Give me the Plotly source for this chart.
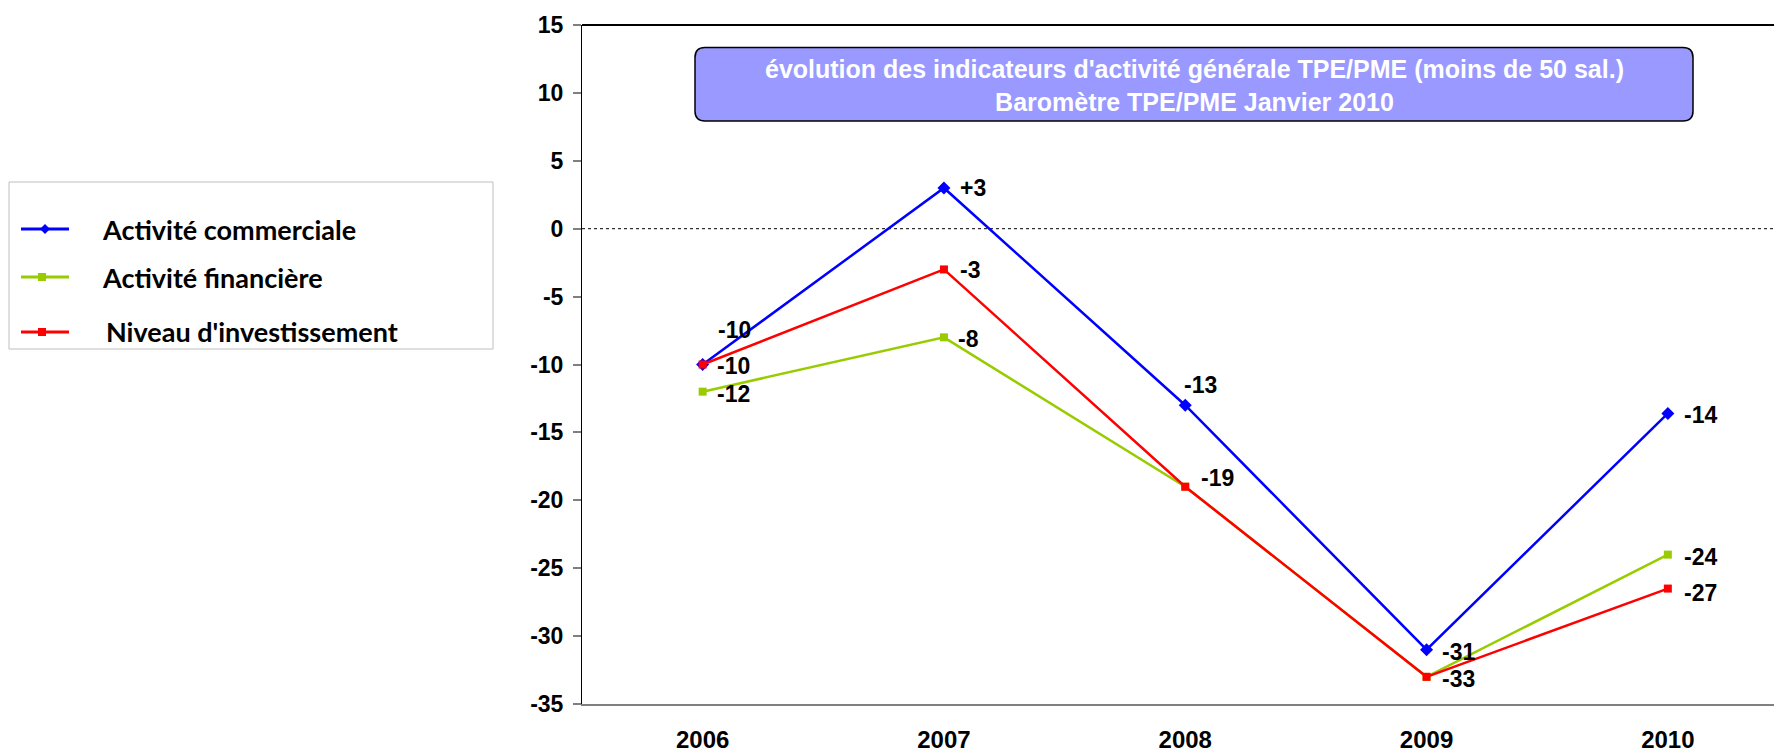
import plotly.graph_objects as go

# Data
years = ["2006", "2007", "2008", "2009", "2010"]
activite_commerciale = [-10, 3, -13, -31, -13.6]
activite_financiere = [-12, -8, -19, -33, -24]
niveau_investissement = [-10, -3, -19, -33, -26.5]

labels_commerciale = ["-10", "+3", "-13", "-31", "-14"]
labels_financiere = ["-12", "-8", "", "", "-24"]
labels_investissement = ["-10", "-3", "-19", "-33", "-27"]

y_ticks = [15, 10, 5, 0, -5, -10, -15, -20, -25, -30, -35]
y_ticktext = ["15", "10", "5", "0", "-5", "-10", "-15", "-20", "-25", "-30", "-35"]

# Label offsets in pixels (x, y) relative to each point
shift_commerciale = [(13, 35), (14, 0), (-3, 20), (13, -2), (14, -2)]
shift_financiere = [(12, -2), (12, -2), (12, 0), (12, 0), (14, -2)]
shift_investissement = [(12, -1), (14, -1), (14, 9), (13, -2), (14, -4)]

W, H = 1774, 753
L, R, T, B = 582, 1774, 25, 704


def px(x):
    return (x - L) / (R - L)


def py(y):
    return (B - y) / (B - T)


bold = dict(family="Liberation Sans, Arial", weight="bold", color="black")

series = [
    ("Activité commerciale", activite_commerciale, labels_commerciale, shift_commerciale,
     "#0000FF", "diamond", 10),
    ("Activité financière", activite_financiere, labels_financiere, shift_financiere,
     "#99CC00", "square", 8),
    ("Niveau d'investissement", niveau_investissement, labels_investissement, shift_investissement,
     "#FF0000", "square", 8),
]

fig = go.Figure()
annotations = []
for name, values, labels, shifts, color, symbol, size in series:
    fig.add_trace(go.Scatter(
        x=years, y=values, name=name, mode="lines+markers",
        line=dict(color=color, width=2.5),
        marker=dict(symbol=symbol, size=size, color=color),
        showlegend=False,
    ))
    # category axis: annotations are placed by category index
    for i, (v, txt, (dx, dy)) in enumerate(zip(values, labels, shifts)):
        if txt:
            annotations.append(dict(
                x=i, y=v, text=txt, showarrow=False, xanchor="left", yanchor="middle",
                xshift=dx, yshift=dy, font=dict(size=23, **bold),
            ))

# Title box with rounded corners
x0, x1, y0, y1 = px(695), px(1693), py(121), py(47.5)
rx, ry = 10 / (R - L), 10 / (B - T)
box_path = (f"M{x0 + rx},{y0} L{x1 - rx},{y0} Q{x1},{y0} {x1},{y0 + ry} "
            f"L{x1},{y1 - ry} Q{x1},{y1} {x1 - rx},{y1} L{x0 + rx},{y1} "
            f"Q{x0},{y1} {x0},{y1 - ry} L{x0},{y0 + ry} Q{x0},{y0} {x0 + rx},{y0} Z")

shapes = [
    dict(type="path", path=box_path, xref="paper", yref="paper",
         fillcolor="#9999FF", line=dict(color="black", width=1.5), layer="below"),
    dict(type="line", xref="paper", yref="y", x0=0, x1=1, y0=0, y1=0,
         line=dict(color="black", width=1, dash="dot"), layer="below"),
    dict(type="line", xref="paper", yref="paper", x0=0, x1=1, y0=1, y1=1,
         line=dict(color="black", width=2)),
]

annotations.append(dict(
    x=px(1194), y=py(85), xref="paper", yref="paper", showarrow=False,
    xanchor="center", yanchor="middle",
    text="évolution des indicateurs d'activité générale TPE/PME (moins de 50 sal.)<br>"
         "Baromètre TPE/PME Janvier 2010",
    font=dict(family="Liberation Sans, Arial", weight="bold", size=25, color="white"),
    align="center",
))

# Legend drawn by hand to match the boxed legend on the left
shapes.append(dict(type="rect", xref="paper", yref="paper",
                   x0=px(9), x1=px(493), y0=py(349), y1=py(182),
                   line=dict(color="#BFBFBF", width=1), fillcolor="white"))
legend_rows = [229, 277, 332]
legend_text_x = [100, 100, 104]
for (name, values, labels, shifts, color, symbol, size), yy, tx in zip(series, legend_rows, legend_text_x):
    shapes.append(dict(type="line", xref="paper", yref="paper",
                       x0=px(21), x1=px(69), y0=py(yy), y1=py(yy),
                       line=dict(color=color, width=3)))
    mx = 45 if symbol == "diamond" else 42
    if symbol == "diamond":
        path = (f"M{px(mx - 5)},{py(yy)} L{px(mx)},{py(yy - 5)} "
                f"L{px(mx + 5)},{py(yy)} L{px(mx)},{py(yy + 5)} Z")
    else:
        path = (f"M{px(mx - 4)},{py(yy - 4)} L{px(mx + 4)},{py(yy - 4)} "
                f"L{px(mx + 4)},{py(yy + 4)} L{px(mx - 4)},{py(yy + 4)} Z")
    shapes.append(dict(type="path", path=path, xref="paper", yref="paper",
                       fillcolor=color, line=dict(color=color, width=0)))
    annotations.append(dict(
        x=px(tx), y=py(yy), xref="paper", yref="paper", showarrow=False,
        xanchor="left", yanchor="middle", text=name,
        font=dict(family="Lato", weight="bold", size=27, color="black"),
    ))

fig.update_layout(
    width=W, height=H,
    margin=dict(l=L, r=W - R, t=T, b=H - B, autoexpand=False),
    plot_bgcolor="white", paper_bgcolor="white",
    shapes=shapes, annotations=annotations,
    showlegend=False,
    xaxis=dict(
        type="category", categoryorder="array", categoryarray=years,
        range=[-0.5, -0.5 + (R - L) / 241.3], automargin=False,
        showline=True, linecolor="#808080", linewidth=2,
        showgrid=False, zeroline=False, ticks="",
        tickfont=dict(size=24, **bold), ticklabelstandoff=13,
    ),
    yaxis=dict(
        range=[-35, 15], tickvals=y_ticks, ticktext=y_ticktext, automargin=False,
        showline=True, linecolor="black", linewidth=1,
        showgrid=False, zeroline=False,
        ticks="outside", ticklen=8, tickwidth=2, tickcolor="#808080",
        tickfont=dict(size=23, **bold), ticklabelstandoff=5,
    ),
)

fig.write_html("out.html", config={"displayModeBar": False},
               post_script="document.body.style.margin='0';document.body.style.overflow='hidden';")
